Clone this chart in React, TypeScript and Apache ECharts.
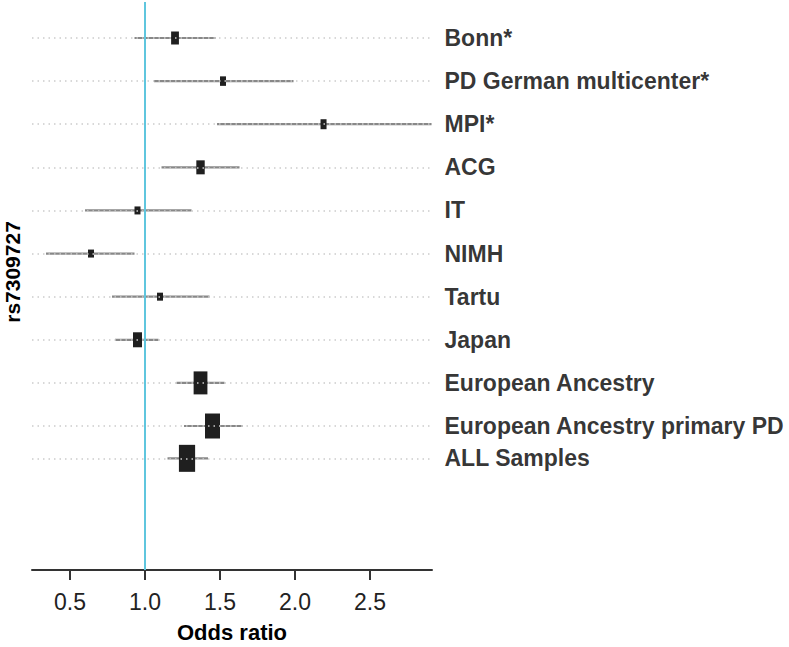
import React, { useEffect, useRef } from "react";
import * as echarts from "echarts";

const studies = [
  "Bonn*",
  "PD German multicenter*",
  "MPI*",
  "ACG",
  "IT",
  "NIMH",
  "Tartu",
  "Japan",
  "European Ancestry",
  "European Ancestry primary PD",
  "ALL Samples",
];
const rowPos = [1, 2, 3, 4, 5, 6, 7, 8, 9, 10, 10.75];
const oddsRatio = [1.2, 1.52, 2.19, 1.37, 0.95, 0.64, 1.1, 0.95, 1.37, 1.45, 1.28];
const ciLow = [0.93, 1.06, 1.48, 1.11, 0.6, 0.34, 0.78, 0.8, 1.21, 1.26, 1.15];
const ciHigh = [1.47, 1.99, 2.91, 1.63, 1.31, 0.93, 1.43, 1.09, 1.53, 1.65, 1.42];
const weight = [13, 9.5, 10, 14, 8, 8, 8, 15, 23, 25, 27];
const xTicks = [0.5, 1.0, 1.5, 2.0, 2.5];
const refOR = 1.0;

const X_MIN = 0.2467;
const X_MAX = 2.913;
const FONT = "'Liberation Sans', Arial, Helvetica, sans-serif";

export default function App() {
  const ref = useRef<HTMLDivElement>(null);
  useEffect(() => {
    if (!ref.current) return;
    const chart = echarts.init(ref.current, null, { renderer: "svg" });
    const forestData = studies.map((_, i) => [oddsRatio[i], rowPos[i], ciLow[i], ciHigh[i], weight[i]]);
    chart.setOption({
      animation: false,
      backgroundColor: "#ffffff",
      grid: { left: 32, right: 357, top: 2, bottom: 77, outerBoundsMode: "none", containLabel: false },
      xAxis: {
        type: "value",
        min: X_MIN,
        max: X_MAX,
        name: "Odds ratio",
        nameLocation: "middle",
        nameGap: 51,
        nameTextStyle: { fontFamily: FONT, fontSize: 22, fontWeight: "bold", color: "#000" },
        axisLine: { show: true, lineStyle: { color: "#333", width: 2 } },
        axisTick: { show: true, length: 10, customValues: xTicks, lineStyle: { color: "#333", width: 2 } },
        axisLabel: {
          customValues: xTicks,
          formatter: (v: number) => v.toFixed(1),
          fontFamily: FONT,
          fontSize: 23,
          color: "#222",
          margin: 20,
        },
        splitLine: { show: false },
      },
      yAxis: {
        type: "value",
        inverse: true,
        min: 0.165,
        max: 13.34,
        axisLine: { show: false },
        axisTick: { show: false },
        axisLabel: { show: false },
        splitLine: { show: false },
      },
      graphic: [
        {
          type: "text",
          x: 12,
          y: 272,
          rotation: Math.PI / 2,
          style: {
            text: "rs7309727",
            fontFamily: FONT,
            fontSize: 21,
            fontWeight: "bold",
            fill: "#000",
            textAlign: "center",
            textVerticalAlign: "middle",
          },
        },
      ],
      series: [
        {
          type: "scatter",
          z: 1,
          symbolSize: 1,
          itemStyle: { color: "rgba(0,0,0,0)" },
          silent: true,
          data: studies.map((s, i) => ({ name: s, value: [X_MAX, rowPos[i]] })),
          label: {
            show: true,
            position: "right",
            distance: 12,
            formatter: "{b}",
            fontFamily: FONT,
            fontSize: 23,
            fontWeight: "bold",
            color: "#000",
          },
          markLine: {
            silent: true,
            symbol: "none",
            label: { show: false },
            lineStyle: { color: "#cccccc", width: 1.5, type: [1.5, 4] },
            data: rowPos.map((p) => ({ yAxis: p })),
          },
        },
        {
          type: "custom",
          z: 2,
          silent: true,
          encode: { x: 0, y: 1 },
          data: forestData,
          renderItem: (params: any, api: any) => {
            const or = api.value(0);
            const y = api.value(1);
            const lo = api.value(2);
            const hi = api.value(3);
            const w = api.value(4);
            const pLo = api.coord([lo, y]);
            const pHi = api.coord([hi, y]);
            const c = api.coord([or, y]);
            const h = w;
            const bw = Math.max(6, w * 0.6);
            return {
              type: "group",
              children: [
                {
                  type: "line",
                  shape: { x1: pLo[0], y1: pLo[1], x2: pHi[0], y2: pHi[1] },
                  style: { stroke: "#888888", lineWidth: 2.2 },
                },
                {
                  type: "rect",
                  shape: { x: c[0] - bw / 2, y: c[1] - h / 2, width: bw, height: h },
                  style: { fill: "#1f1f1f" },
                },
              ],
            };
          },
        },
        {
          type: "scatter",
          z: 3,
          symbolSize: 1,
          itemStyle: { color: "rgba(0,0,0,0)" },
          silent: true,
          data: [[refOR, rowPos[0]]],
          markLine: {
            silent: true,
            symbol: "none",
            label: { show: false },
            lineStyle: { color: "#5fc6de", width: 2, type: "solid" },
            data: [{ xAxis: refOR }],
          },
        },
      ],
    });
    return () => chart.dispose();
  }, []);
  return (
    <div
      ref={ref}
      style={{ position: "fixed", left: 0, top: 0, width: 789, height: 647 }}
    />
  );
}
